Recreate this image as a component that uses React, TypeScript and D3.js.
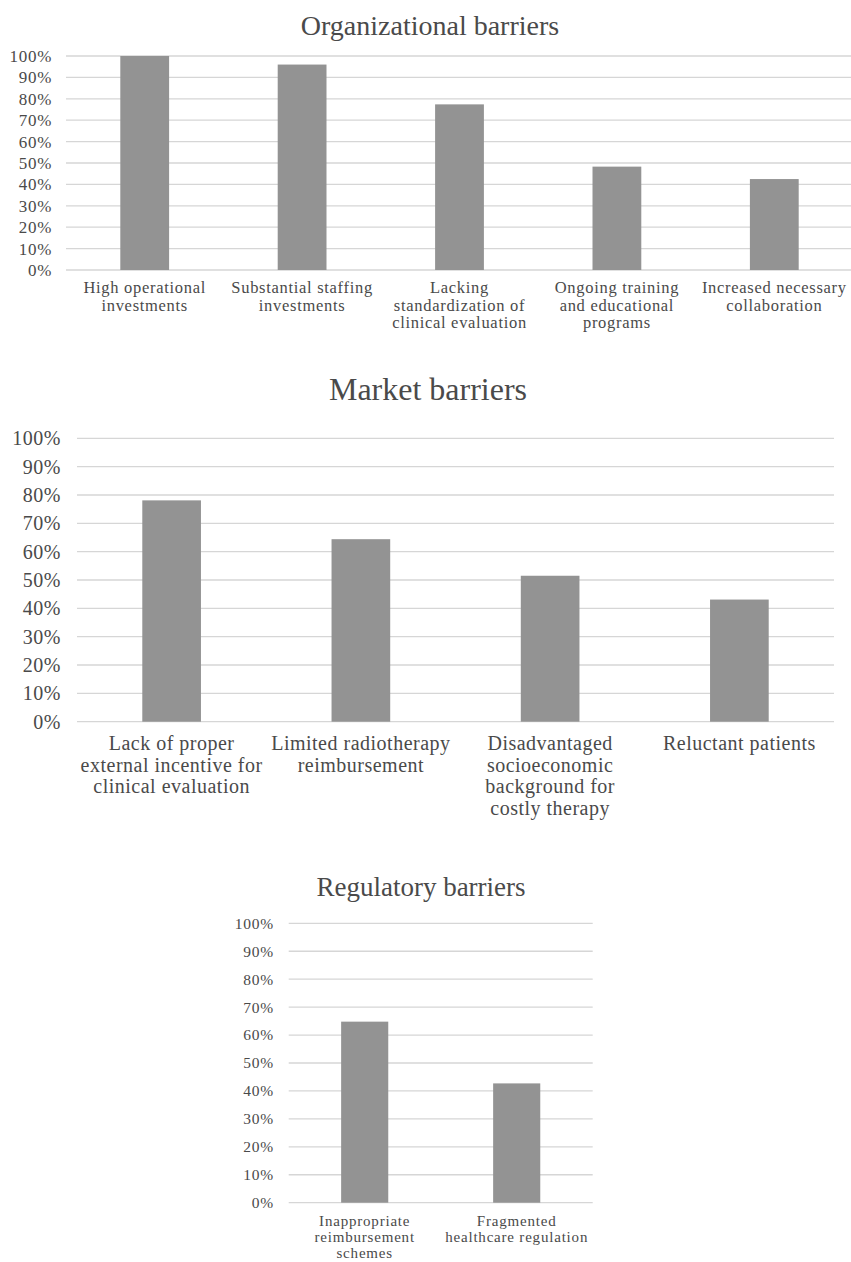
import React from 'react';
import * as d3 from 'd3';

// values (share of respondents)
const orgCategories = [
  'High operational investments',
  'Substantial staffing investments',
  'Lacking standardization of clinical evaluation',
  'Ongoing training and educational programs',
  'Increased necessary collaboration',
];
const orgLabelLines = [
  ['High operational', 'investments'],
  ['Substantial staffing', 'investments'],
  ['Lacking', 'standardization of', 'clinical evaluation'],
  ['Ongoing training', 'and educational', 'programs'],
  ['Increased necessary', 'collaboration'],
];
const orgValues = [1.0, 0.96, 0.774, 0.483, 0.425];

const marketCategories = [
  'Lack of proper external incentive for clinical evaluation',
  'Limited radiotherapy reimbursement',
  'Disadvantaged socioeconomic background for costly therapy',
  'Reluctant patients',
];
const marketLabelLines = [
  ['Lack of proper', 'external incentive for', 'clinical evaluation'],
  ['Limited radiotherapy', 'reimbursement'],
  ['Disadvantaged', 'socioeconomic', 'background for', 'costly therapy'],
  ['Reluctant patients'],
];
const marketValues = [0.781, 0.644, 0.515, 0.431];

const regCategories = ['Inappropriate reimbursement schemes', 'Fragmented healthcare regulation'];
const regLabelLines = [
  ['Inappropriate', 'reimbursement', 'schemes'],
  ['Fragmented', 'healthcare regulation'],
];
const regValues = [0.648, 0.427];

const yTicks = [0, 0.1, 0.2, 0.3, 0.4, 0.5, 0.6, 0.7, 0.8, 0.9, 1.0];

const FONT = '"Liberation Serif", "Times New Roman", serif';
const TEXT = '#4a4a4a';
const GRID = '#d6d6d6';
const BAR = '#939393';

interface PanelProps {
  title: string;
  categories: string[];
  lines: string[][];
  values: number[];
  titleX: number;
  titleY: number;
  titleSize: number;
  x0: number;
  x1: number;
  yTop: number;
  yBottom: number;
  tickX: number;
  tickSize: number;
  labelY: number;
  labelLh: number;
  labelSize: number;
  ls: number;
}

const Panel: React.FC<PanelProps> = (p) => {
  const x = d3.scaleBand<string>()
    .domain(p.categories)
    .range([p.x0, p.x1])
    .paddingInner(0.69)
    .paddingOuter(0.345);
  const y = d3.scaleLinear().domain([0, 1]).range([p.yBottom, p.yTop]);
  const fmt = d3.format('.0%');

  return (
    <g fontFamily={FONT} fill={TEXT}>
      <text x={p.titleX} y={p.titleY} textAnchor="middle" fontSize={p.titleSize}>
        {p.title}
      </text>
      {yTicks.map((t) => (
        <g key={t}>
          <line x1={p.x0} x2={p.x1} y1={y(t)} y2={y(t)} stroke={GRID} strokeWidth={1.3} />
          <text
            x={p.tickX}
            y={y(t)}
            dy="0.35em"
            textAnchor="end"
            fontSize={p.tickSize}
            letterSpacing={p.ls}
          >
            {fmt(t)}
          </text>
        </g>
      ))}
      {p.categories.map((c, i) => (
        <rect
          key={c}
          x={x(c)}
          y={y(p.values[i])}
          width={x.bandwidth()}
          height={p.yBottom - y(p.values[i])}
          fill={BAR}
        />
      ))}
      {p.categories.map((c, i) => (
        <text
          key={c + '-l'}
          x={(x(c) || 0) + x.bandwidth() / 2}
          y={p.labelY}
          textAnchor="middle"
          fontSize={p.labelSize}
          letterSpacing={p.ls}
        >
          {p.lines[i].map((ln, j) => (
            <tspan key={j} x={(x(c) || 0) + x.bandwidth() / 2} y={p.labelY + j * p.labelLh}>
              {ln}
            </tspan>
          ))}
        </text>
      ))}
    </g>
  );
};

export default function App() {
  return (
    <svg
      width={851}
      height={1262}
      style={{ position: 'absolute', left: 0, top: 0, background: '#fff' }}
    >
      <rect width={851} height={1262} fill="#fff" />
      <Panel
        title="Organizational barriers"
        categories={orgCategories}
        lines={orgLabelLines}
        values={orgValues}
        titleX={430}
        titleY={35}
        titleSize={28}
        x0={66}
        x1={853}
        yTop={56}
        yBottom={270}
        tickX={52}
        tickSize={17}
        labelY={293}
        labelLh={17.6}
        labelSize={16.5}
        ls={0.7}
      />
      <Panel
        title="Market barriers"
        categories={marketCategories}
        lines={marketLabelLines}
        values={marketValues}
        titleX={428}
        titleY={400}
        titleSize={32}
        x0={77}
        x1={834}
        yTop={438.3}
        yBottom={721.7}
        tickX={61}
        tickSize={20}
        labelY={750}
        labelLh={21.5}
        labelSize={20}
        ls={0.5}
      />
      <Panel
        title="Regulatory barriers"
        categories={regCategories}
        lines={regLabelLines}
        values={regValues}
        titleX={421}
        titleY={895.5}
        titleSize={27}
        x0={288.7}
        x1={592.7}
        yTop={923.3}
        yBottom={1202.7}
        tickX={274}
        tickSize={15.5}
        labelY={1226}
        labelLh={16}
        labelSize={15}
        ls={0.8}
      />
    </svg>
  );
}
